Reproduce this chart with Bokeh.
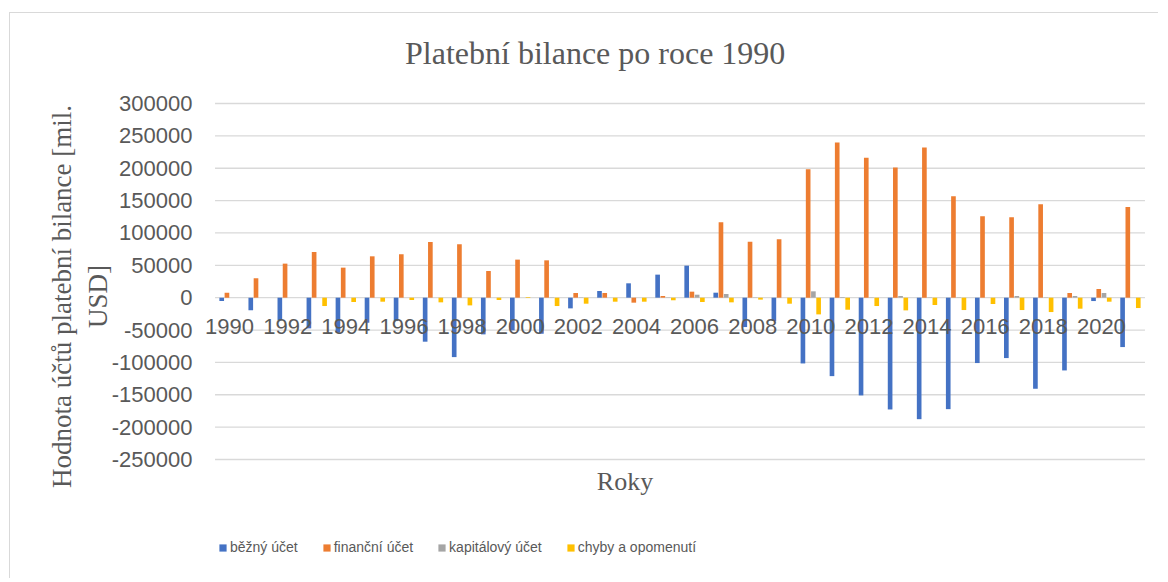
from bokeh.plotting import figure
from bokeh.models import (ColumnDataSource, FactorRange, Range1d, FixedTicker, Legend, LegendItem,
                          Label)
from bokeh.transform import dodge
from bokeh.core.properties import value
from bokeh.embed import file_html
from bokeh.resources import INLINE

years = [str(y) for y in range(1990, 2022)]
label_years = years[::2]
series_names = ["běžný účet", "finanční účet", "kapitálový účet", "chyby a opomenutí"]
series_colors = ["#4472C4", "#ED7D31", "#A5A5A5", "#FFC000"]

bezny_ucet = [-5000, -19600, -35000, -47400, -54100, -38700, -36100, -68000, -91800, -56700,
              -50500, -55700, -16500, 10300, 22200, 35600, 49500, 7700, -45400, -36000,
              -101600, -121200, -151000, -172700, -187700, -172200, -101000, -93300, -140700, -112400,
              -5200, -76300]
financni_ucet = [7700, 30000, 52600, 70600, 46400, 63900, 67000, 86100, 82500, 41200,
                 58800, 57700, 7200, 7200, -7700, 2600, 9300, 116500, 86600, 90200,
                 198500, 239700, 216000, 201000, 232000, 156700, 125800, 124200, 144400, 7200,
                 13400, 140200]
kapitalovy_ucet = [0, 0, 0, 0, 0, 0, 0, 0, 0, 0,
                   0, 500, 500, 0, 0, 500, 4600, 5700, 500, 0,
                   9800, 1000, 500, 2600, 500, 500, 0, 2600, 500, 2600,
                   7200, 0]
chyby_opomenuti = [0, 0, 0, -12900, -6700, -6200, -3600, -7200, -11900, -3600,
                   1000, -12900, -9300, -6200, -6200, -4000, -6700, -7200, -3000, -9300,
                   -25800, -18600, -12900, -19600, -11300, -19100, -9800, -19100, -22200, -17000,
                   -6200, -16000]
y_ticks = list(range(-250000, 300001, 50000))

title_text = "Platební bilance po roce 1990"
y_title = "Hodnota účtů platební bilance [mil.\nUSD]"
x_title = "Roky"

# ---- layout (page pixels) ----
PLOT_L, PLOT_R, PLOT_T, PLOT_B = 215, 1145, 103, 459   # value area of the chart
CANVAS_T, CANVAS_H = 13, 566
CAT_W = (PLOT_R - PLOT_L) / len(years)
UPP = (y_ticks[-1] - y_ticks[0]) / (PLOT_B - PLOT_T)


def ydata(py):
    return y_ticks[-1] - (py - PLOT_T) * UPP


def xdata(px):
    return (px - PLOT_L) / CAT_W


source = ColumnDataSource(dict(year=years, b=bezny_ucet, f=financni_ucet,
                               k=kapitalovy_ucet, c=chyby_opomenuti))
grid_src = ColumnDataSource(dict(first=[years[0]] * len(y_ticks), last=[years[-1]] * len(y_ticks),
                                 y=y_ticks))

TXT = "#595959"
GRID = "#D9D9D9"
xr = FactorRange(*years, range_padding=0.5, range_padding_units="absolute")
p = figure(width=1149, height=CANVAS_H, x_range=xr,
           y_range=Range1d(ydata(CANVAS_T + CANVAS_H), ydata(CANVAS_T)),
           output_backend="svg", toolbar_location=None,
           min_border_left=190, min_border_right=0, min_border_top=0, min_border_bottom=0)
p.styles = {"border-top": "1px solid #D9D9D9", "border-left": "1px solid #D9D9D9",
            "margin-top": "12px", "margin-left": "9px"}
p.title.visible = False
p.outline_line_color = None
p.xgrid.grid_line_color = None
p.ygrid.grid_line_color = None
p.xaxis.visible = False

# value gridlines limited to the category span
p.segment(x0=dodge("first", -0.5, range=xr), x1=dodge("last", 0.5, range=xr),
          y0="y", y1="y", source=grid_src, line_color=GRID, line_width=1.3)

ya = p.yaxis[0]
ya.ticker = FixedTicker(ticks=y_ticks)
ya.major_label_overrides = {t: str(t) for t in y_ticks}
ya.axis_line_color = None
ya.major_tick_line_color = None
ya.minor_tick_line_color = None
ya.major_tick_out = 0
ya.minor_tick_out = 0
ya.major_label_standoff = 8
ya.major_label_text_font = "Liberation Sans"
ya.major_label_text_font_size = "22px"
ya.major_label_text_color = TXT
ya.axis_label = y_title
ya.axis_label_text_font = "Liberation Serif"
ya.axis_label_text_font_size = "27px"
ya.axis_label_text_font_style = "normal"
ya.axis_label_text_color = TXT
ya.axis_label_standoff = -4

offsets = [-0.27, -0.09, 0.09, 0.27]
cols = ["b", "f", "k", "c"]
items = []
for col, off, color, name in zip(cols, offsets, series_colors, series_names):
    r = p.vbar(x=dodge("year", off, range=xr), top=col, bottom=0, width=0.16,
               source=source, fill_color=color, line_color=None)
    items.append(LegendItem(label=name, renderers=[r]))

# category labels next to the zero line
p.text(x=label_years, y=[0] * len(label_years), text=label_years,
       text_font=value("Liberation Sans"), text_font_size="22px", text_color=TXT,
       text_align="center", text_baseline="middle", y_offset=29)

p.add_layout(Label(x=xdata(405), y=ydata(52), text=title_text, text_font="Liberation Serif",
                   text_font_size="32px", text_color=TXT, text_align="left",
                   text_baseline="middle"))
p.add_layout(Label(x=xdata(625), y=ydata(481), text=x_title, text_font="Liberation Serif",
                   text_font_size="26px", text_color=TXT, text_align="center",
                   text_baseline="middle"))

legend = Legend(items=items, orientation="horizontal", location=(18, 24),
                glyph_width=9, glyph_height=9, label_standoff=3, spacing=24,
                padding=0, margin=0, border_line_color=None, background_fill_alpha=0,
                label_text_font="Liberation Sans", label_text_font_size="14px",
                label_text_color=TXT)
p.add_layout(legend, "center")

open("out.html", "w").write(file_html(p, INLINE))
